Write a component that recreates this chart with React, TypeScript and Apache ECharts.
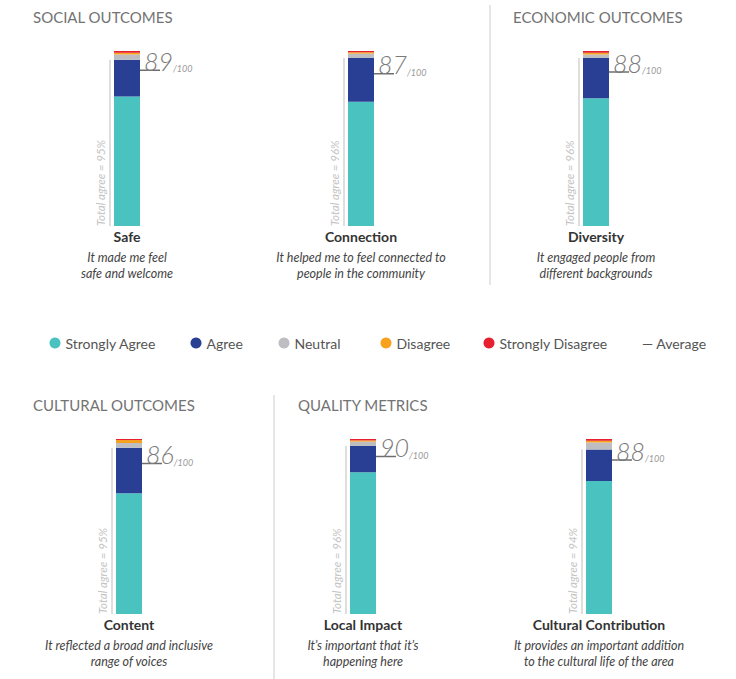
import React, { useEffect, useRef } from "react";
import * as echarts from "echarts";

const CATEGORIES = ["Safe", "Connection", "Diversity", "Content", "Local Impact", "Cultural Contribution"];
const SUBTITLES = [
  ["It made me feel", "safe and welcome"],
  ["It helped me to feel connected to", "people in the community"],
  ["It engaged people from", "different backgrounds"],
  ["It reflected a broad and inclusive", "range of voices"],
  ["It\u2019s important that it\u2019s", "happening here"],
  ["It provides an important addition", "to the cultural life of the area"],
];
const STRONGLY_AGREE = [74, 71, 73, 69, 81, 76];
const AGREE = [21, 25, 23, 26, 15, 18];
const NEUTRAL = [3, 2.5, 2, 2.7, 2.5, 4];
const DISAGREE = [1, 0.8, 1, 1.7, 0.7, 1];
const STRONGLY_DISAGREE = [1, 0.7, 1, 0.6, 0.8, 1];
const TOTAL_AGREE = [95, 96, 96, 95, 96, 94];
const AVERAGE = [89, 87, 88, 86, 90, 88];
const SECTION_TITLES = ["SOCIAL OUTCOMES", "ECONOMIC OUTCOMES", "CULTURAL OUTCOMES", "QUALITY METRICS"];
const LEGEND_NAMES = ["Strongly Agree", "Agree", "Neutral", "Disagree", "Strongly Disagree", "Average"];

const COLORS = ["#4AC3C0", "#283F94", "#BDBDC2", "#F7A11F", "#E6202E"];
const FONT = "Lato, 'Open Sans', sans-serif";

const CENTERS = [127, 361, 596, 129, 363, 599];
const TOPS = [51, 51, 51, 439, 439, 439];
const GRID_H = 175;
const LEGEND_LEFTS = [44.5, 185.5, 273.5, 375.5, 478.5, 621];

export default function App() {
  const ref = useRef<HTMLDivElement>(null);
  useEffect(() => {
    if (!ref.current) return;
    const chart = echarts.init(ref.current, null, { renderer: "svg" });
    const stacks = [STRONGLY_AGREE, AGREE, NEUTRAL, DISAGREE, STRONGLY_DISAGREE];

    const grids: any[] = [];
    const xAxes: any[] = [];
    const yAxes: any[] = [];
    const series: any[] = [];

    CATEGORIES.forEach((cat, i) => {
      grids.push({ left: CENTERS[i] - 40, width: 80, top: TOPS[i], height: GRID_H });
      xAxes.push({
        type: "category",
        gridIndex: i,
        data: [cat],
        axisLine: { show: false },
        axisTick: { show: false },
        axisLabel: {
          margin: -2,
          interval: 0,
          formatter: (v: string) => `{t|${v}}\n{s|${SUBTITLES[i][0]}}\n{s|${SUBTITLES[i][1]}}`,
          rich: {
            t: { fontFamily: FONT, fontSize: 14, fontWeight: "bold", color: "#333", lineHeight: 25 },
            s: { fontFamily: FONT, fontSize: 12.5, fontStyle: "italic", color: "#444", lineHeight: 16 },
          },
        },
      });
      yAxes.push({ type: "value", gridIndex: i, min: 0, max: 100, show: false });
      stacks.forEach((arr, k) => {
        series.push({
          type: "bar",
          name: LEGEND_NAMES[k],
          stack: "s" + i,
          xAxisIndex: i,
          yAxisIndex: i,
          barWidth: 26,
          itemStyle: { color: COLORS[k] },
          data: [arr[i]],
          silent: true,
        });
      });
      series.push({
        type: "custom",
        name: "Total agree",
        xAxisIndex: i,
        yAxisIndex: i,
        data: [[0, TOTAL_AGREE[i]]],
        renderItem: (params: any, api: any) => {
          const b = api.coord([api.value(0), 0]);
          const t = api.coord([api.value(0), api.value(1)]);
          return {
            type: "group",
            children: [
              {
                type: "line",
                shape: { x1: b[0] - 17, y1: b[1], x2: b[0] - 17, y2: t[1] },
                style: { stroke: "#c8c8c8", lineWidth: 1.2 },
              },
              {
                type: "text",
                x: b[0] - 27,
                y: b[1],
                rotation: Math.PI / 2,
                style: {
                  text: `Total agree = ${api.value(1)}%`,
                  fontFamily: FONT,
                  fontSize: 11.5,
                  fontStyle: "italic",
                  fill: "#c4c4c4",
                  align: "left",
                  verticalAlign: "middle",
                },
              },
            ],
          };
        },
      });
      series.push({
        type: "custom",
        name: "Average",
        xAxisIndex: i,
        yAxisIndex: i,
        data: [[0, AVERAGE[i]]],
        renderItem: (params: any, api: any) => {
          const p = api.coord([api.value(0), api.value(1)]);
          return {
            type: "group",
            children: [
              {
                type: "line",
                shape: { x1: p[0] + 5, y1: p[1], x2: p[0] + 33, y2: p[1] },
                style: { stroke: "#6e6e6e", lineWidth: 1.5 },
              },
              {
                type: "text",
                x: p[0] + 17,
                y: p[1] + 3,
                style: {
                  text: `{n|${api.value(1)}}{d|/100}`,
                  align: "left",
                  verticalAlign: "bottom",
                  rich: {
                    n: { fontFamily: FONT, fontSize: 25, fontStyle: "italic", fontWeight: 300, fill: "#7a7a7a", verticalAlign: "bottom", lineHeight: 27 },
                    d: { fontFamily: FONT, fontSize: 9, fontStyle: "italic", fill: "#999", verticalAlign: "bottom", lineHeight: 14 },
                  },
                },
              },
            ],
          };
        },
      });
    });

    const legends = LEGEND_NAMES.map((n, k) => ({
      left: LEGEND_LEFTS[k],
      top: 331,
      itemWidth: 11,
      itemHeight: 11,
      textStyle: { fontFamily: FONT, fontSize: 14, color: "#555" },
      formatter: (name: string) => (name === "Average" ? "\u2014 Average" : name),
      data: [k < 5 ? { name: n, icon: "circle", itemStyle: { color: COLORS[k] } } : { name: n, icon: "none" }],
    }));

    const option: any = {
      animation: false,
      textStyle: { fontFamily: FONT },
      grid: grids,
      xAxis: xAxes,
      yAxis: yAxes,
      series,
      legend: legends,
      graphic: [
        { type: "text", left: 33, top: 9, style: { text: SECTION_TITLES[0], fontFamily: FONT, fontSize: 15, fill: "#737373" } },
        { type: "text", left: 513, top: 9, style: { text: SECTION_TITLES[1], fontFamily: FONT, fontSize: 15, fill: "#737373" } },
        { type: "text", left: 33, top: 397, style: { text: SECTION_TITLES[2], fontFamily: FONT, fontSize: 15, fill: "#737373" } },
        { type: "text", left: 298, top: 397, style: { text: SECTION_TITLES[3], fontFamily: FONT, fontSize: 15, fill: "#737373" } },
        { type: "line", shape: { x1: 490, y1: 5, x2: 490, y2: 285 }, style: { stroke: "#ccc", lineWidth: 1 } },
        { type: "line", shape: { x1: 274, y1: 395, x2: 274, y2: 679 }, style: { stroke: "#ccc", lineWidth: 1 } },
      ],
    };
    chart.setOption(option);
    return () => chart.dispose();
  }, []);
  return (
    <div
      ref={ref}
      style={{ position: "fixed", left: 0, top: 0, width: 736, height: 679, background: "#fff" }}
    />
  );
}
